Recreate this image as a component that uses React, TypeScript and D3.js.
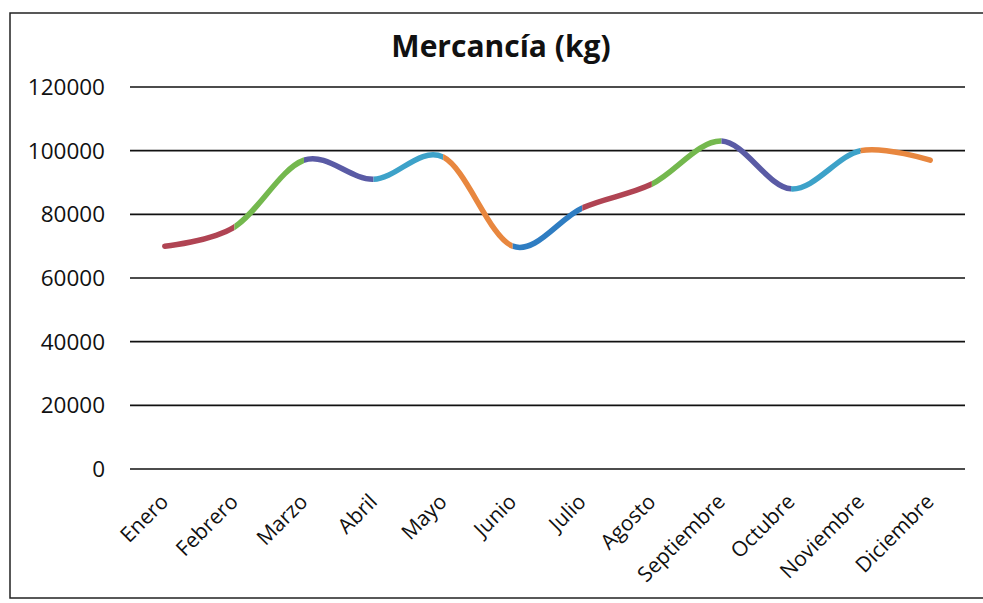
import React from "react";
import * as d3 from "d3";

const months = ["Enero","Febrero","Marzo","Abril","Mayo","Junio","Julio","Agosto","Septiembre","Octubre","Noviembre","Diciembre"];
const values = [70000, 76000, 97000, 91000, 98000, 70000, 82000, 89500, 103000, 88000, 100000, 97000];
const yTicks = [0, 20000, 40000, 60000, 80000, 100000, 120000];
const segmentColors = ["#B04453", "#74B84E", "#5A5BA5", "#3DA2C9", "#E8873F", "#2F7DC2"];
const title = "Mercancía (kg)";

const W = 983, H = 603;
const left = 130, right = 965, top = 87, bottom = 469;

export default function App() {
  const x = d3.scaleBand<string>().domain(months).range([left, right]);
  const cx = (m: string) => (x(m) as number) + x.bandwidth() / 2;
  const y = d3.scaleLinear().domain([0, 120000]).range([bottom, top]);
  const pts: [number, number][] = months.map((m, i) => [cx(m), y(values[i])]);
  const line = d3.line().curve(d3.curveCardinal.tension(0));
  const d = line(pts) as string;
  const font = "'Open Sans', 'DejaVu Sans', sans-serif";

  return (
    <svg width={W} height={H} style={{ position: "absolute", left: 0, top: 0 }}>
      <rect x={0} y={0} width={W} height={H} fill="#fff" />
      <rect x={10} y={13} width={990} height={585} fill="none" stroke="#222" strokeWidth={1.5} />
      <text x={501} y={57} textAnchor="middle" fontFamily={font} fontWeight="bold" fontSize={30} fill="#111">{title}</text>
      {yTicks.map(t => (
        <g key={t}>
          <line x1={left} x2={right} y1={y(t)} y2={y(t)} stroke="#111" strokeWidth={1.6} />
          <text x={105} y={y(t)} dy="0.36em" textAnchor="end" fontFamily={font} fontSize={22.5} fill="#111">{t}</text>
        </g>
      ))}
      <defs>
        {pts.slice(0, -1).map((p, i) => {
          const x0 = i === 0 ? p[0] - 10 : p[0];
          const x1 = i === pts.length - 2 ? pts[i + 1][0] + 10 : pts[i + 1][0];
          return (
            <clipPath id={`seg${i}`} key={i}>
              <rect x={x0} y={0} width={x1 - x0} height={H} />
            </clipPath>
          );
        })}
      </defs>
      {pts.slice(0, -1).map((_, i) => (
        <path key={i} d={d} fill="none" stroke={segmentColors[i % segmentColors.length]} strokeWidth={5.5} strokeLinecap="round" clipPath={`url(#seg${i})`} />
      ))}
      {months.map(m => (
        <text key={m} transform={`translate(${cx(m) + 5},${bottom + 34}) rotate(-45)`} textAnchor="end" fontFamily={font} fontSize={21} fill="#111">{m}</text>
      ))}
    </svg>
  );
}
